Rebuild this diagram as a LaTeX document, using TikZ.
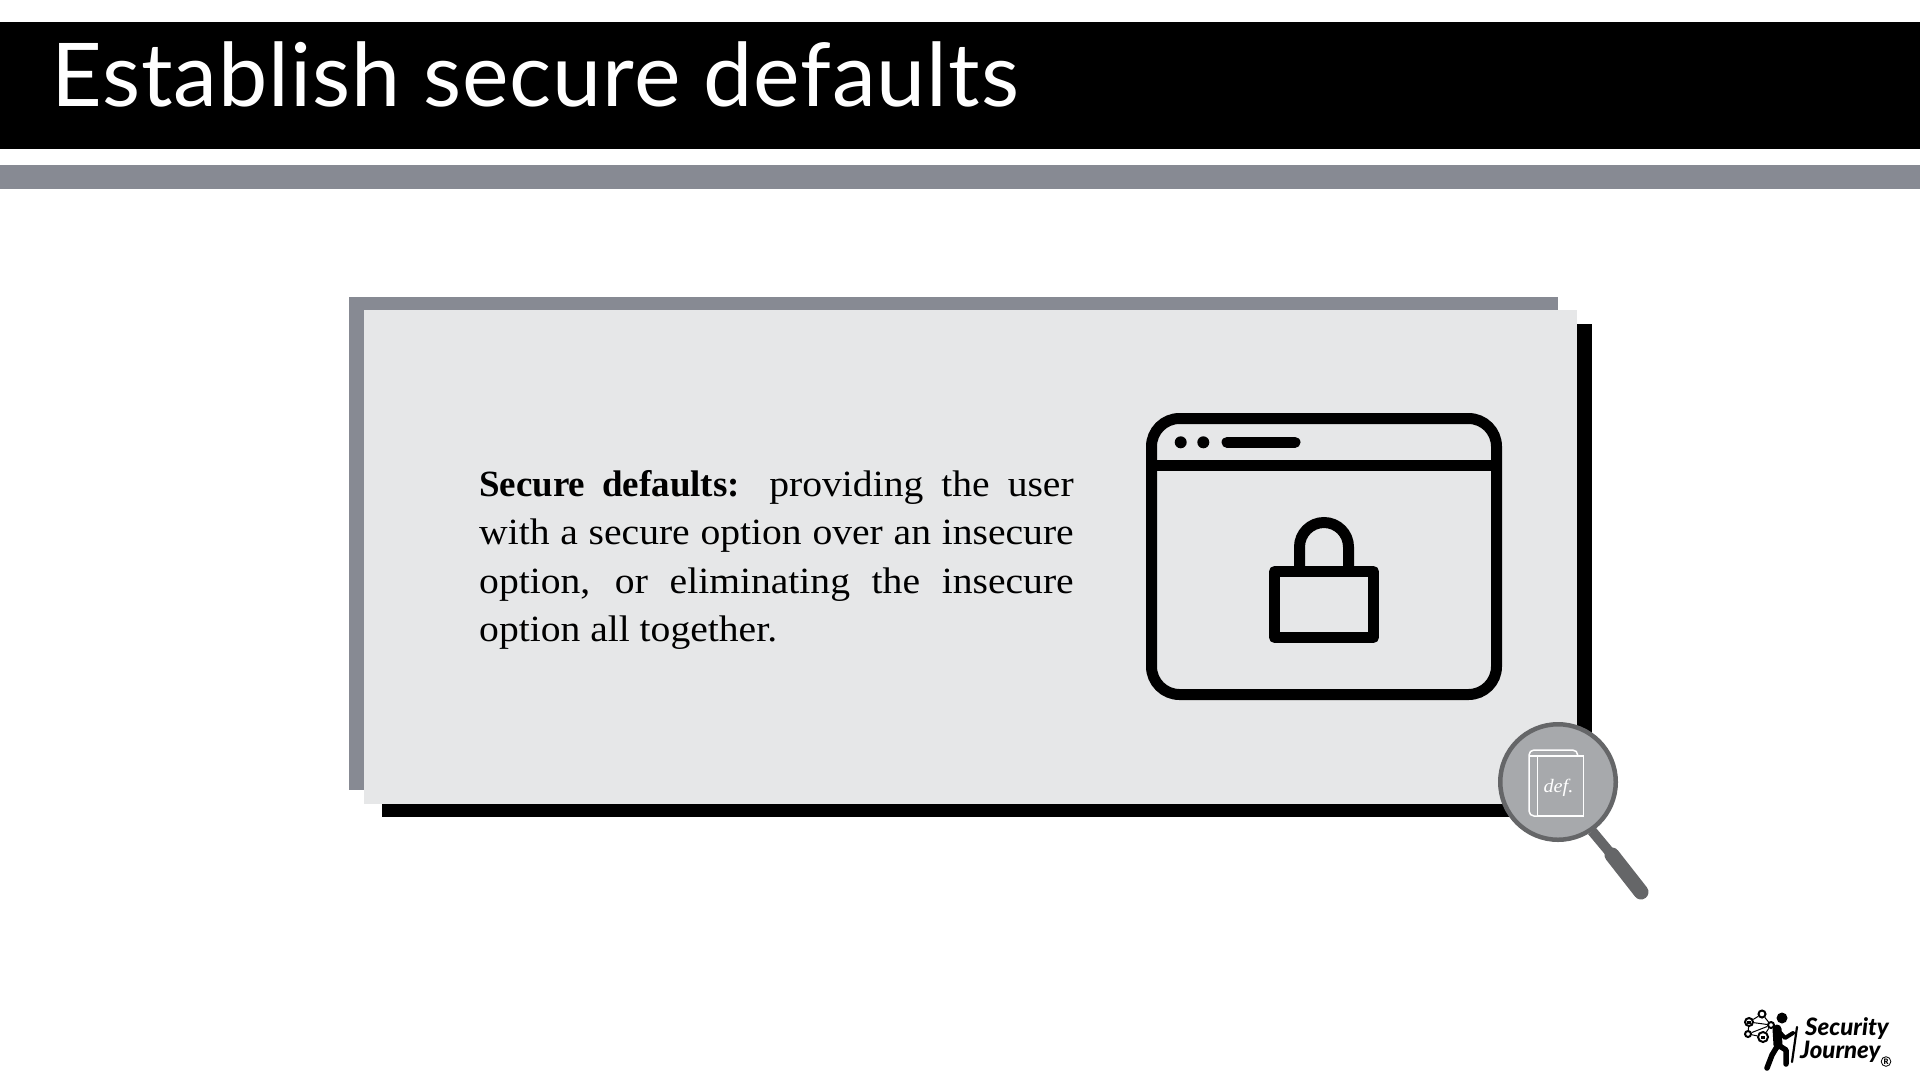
\documentclass[tikz,border=0pt]{standalone}
\usepackage{fontspec}
\setmainfont{Liberation Serif}[FakeStretch=1.07,BoldFeatures={FakeStretch=1.0}]
\newfontfamily\titlefont{Lato}[LetterSpace=1]
\newfontfamily\logofont{Lato Black}[ItalicFont=Lato Black Italic]
\definecolor{bandgrey}{HTML}{878A93}
\definecolor{panelgrey}{HTML}{E6E7E8}
\definecolor{lensgrey}{HTML}{A7A9AC}
\definecolor{handlegrey}{HTML}{656668}
\tikzset{
  plate/.style={fill=#1,draw=none},
  iconline/.style={draw=black,line width=11pt},
  bookline/.style={draw=white,line width=1.5pt},
  netdot/.style={circle,draw=black,fill=white,line width=2pt,inner sep=0pt,minimum size=#1},
  hikerline/.style={draw=black,line width=#1,line cap=round,line join=round}
}
\begin{document}
\begin{tikzpicture}[x=1pt,y=-1pt]
\useasboundingbox (0,0) rectangle (1920,1080);
\fill[plate=black] (0,22) rectangle (1920,149);
\fill[plate=bandgrey] (0,165) rectangle (1920,189);
\node [anchor=base west,inner sep=0pt,text=white] (title) at (51,106)
  {\titlefont\fontsize{88}{88}\selectfont Establish secure defaults};

\fill[plate=black] (382,324) rectangle (1592,817);
\fill[plate=bandgrey] (349,297) rectangle (1558,790);
\fill[plate=panelgrey] (364,310) rectangle (1577,804);

\node [anchor=north west,inner sep=0pt,text width=594.5pt,align=justify,
  font=\fontsize{37}{48.2}\selectfont] (definition) at (479,470.5)
  {\textbf{Secure defaults:} providing the user\linebreak
  with a secure option over an insecure\linebreak
  option, or eliminating the insecure\linebreak
  option all together.};

\draw[iconline,rounded corners=28pt] (1151.5,418.5) rectangle (1496.5,694.5);
\draw[iconline] (1151.5,465) -- (1496.5,465);
\foreach \dotx in {1180.7,1203.3}
  \fill (\dotx,442.3) circle [radius=6pt];
\draw[iconline,line cap=round] (1227,442.3) -- (1295,442.3);
\draw[iconline,line join=round] (1274.5,571.5) rectangle (1373.5,637.5);
\draw[iconline,rounded corners=24.5pt] (1299.5,571.5) -- (1299.5,522.5) -- (1348.5,522.5) -- (1348.5,571.5);

\coordinate (neckend) at (1612,855);
\coordinate (gripend) at (1641,892);
\node [circle,fill=lensgrey,draw=handlegrey,line width=4.5pt,minimum size=115.5pt,inner sep=0pt] (lens) at (1558,782) {};
\draw[draw=handlegrey,line width=10pt] (lens) ++(34,49) -- (neckend);
\draw[draw=handlegrey,line width=15pt,line cap=round] (neckend) -- (gripend);
\draw[bookline,rounded corners=5pt] (1537.3,816) -- (1529,816) -- (1529,750) -- (1577.7,750) -- (1577.7,756);
\draw[bookline] (1537.3,756) rectangle (1583.3,816);
\draw[bookline] (1529,756) -- (1537.3,756);
\node [anchor=base,inner sep=0pt,text=white] (deflabel) at (1558.5,792.5)
  {\fontsize{19}{19}\selectfont\textit{def.}};

\node [netdot=8pt] (net1) at (1749,1022) {};
\node [netdot=7pt] (net2) at (1762,1014) {};
\node [netdot=6pt] (net3) at (1771,1025) {};
\node [netdot=10pt] (net4) at (1763,1037) {};
\node [netdot=6pt] (net5) at (1748,1034) {};
\foreach \nfrom/\nto in {net1/net2,net2/net3,net3/net4,net4/net5,net5/net1,net1/net3,net5/net3}
  \draw[line width=1pt] (\nfrom) -- (\nto);
\foreach \lockdot in {net1,net4}
  \fill (\lockdot) ++(-2,-1.5) rectangle ++(4,3.5);
\node [circle,fill=black,inner sep=0pt,minimum size=11pt] (head) at (1782,1018) {};
\coordinate (shoulder) at (1777,1029);
\coordinate (hip) at (1778,1045);
\draw[hikerline=9pt] (shoulder) -- (hip);
\draw[hikerline=5.5pt] (hip) -- (1772,1055) -- (1767,1068);
\draw[hikerline=5.5pt] (hip) -- (1786,1050) -- (1786,1064);
\draw[hikerline=4pt] (shoulder) -- (1785,1038) -- (1793,1033);
\draw[hikerline=2.2pt] (1797,1027) -- (1792,1062);
\node [anchor=base west,inner sep=0pt] (logotop) at (1805,1035.5)
  {\logofont\fontsize{24}{24}\selectfont\itshape Security};
\node [anchor=base west,inner sep=0pt] (logobottom) at (1800,1058)
  {\logofont\fontsize{24}{24}\selectfont\itshape Journey};
\node [circle,draw=black,line width=.8pt,inner sep=.8pt] (regmark) at (1886,1061.5)
  {\logofont\fontsize{7.5}{7.5}\selectfont R};
\end{tikzpicture}
\end{document}
